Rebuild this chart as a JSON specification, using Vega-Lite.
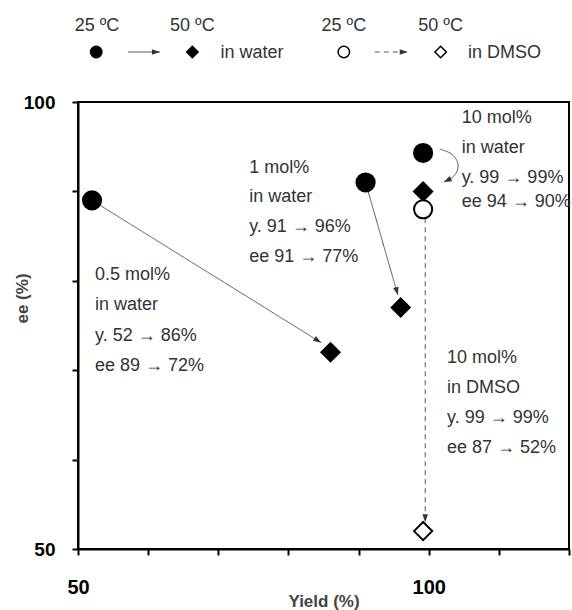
{
  "$schema": "https://vega.github.io/schema/vega-lite/v6.json",
  "autosize": {"type": "none"},
  "padding": {"left": 78, "top": 102, "right": 3, "bottom": 61},
  "width": 491,
  "height": 447,
  "config": {
    "font": "Liberation Sans",
    "view": {"stroke": "black", "strokeWidth": 2}
  },
  "datasets": {
    "pts": [
      {"x": 52, "y": 89, "temp": "25 ºC", "solvent": "water"},
      {"x": 86, "y": 72, "temp": "50 ºC", "solvent": "water"},
      {"x": 91, "y": 91, "temp": "25 ºC", "solvent": "water"},
      {"x": 96, "y": 77, "temp": "50 ºC", "solvent": "water"},
      {"x": 99.2, "y": 94.3, "temp": "25 ºC", "solvent": "water"},
      {"x": 99.2, "y": 90, "temp": "50 ºC", "solvent": "water"},
      {"x": 99.2, "y": 88, "temp": "25 ºC", "solvent": "DMSO"},
      {"x": 99.2, "y": 52, "temp": "50 ºC", "solvent": "DMSO"}
    ],
    "keys": [
      {"x": 52.6, "y": 105.59, "temp": "25 ºC", "solvent": "water"},
      {"x": 66.3, "y": 105.59, "temp": "50 ºC", "solvent": "water"},
      {"x": 87.9, "y": 105.59, "temp": "25 ºC", "solvent": "DMSO"},
      {"x": 101.7, "y": 105.59, "temp": "50 ºC", "solvent": "DMSO"}
    ],
    "paths": [
      {"id": "a", "o": 1, "x": 52, "y": 89, "solvent": "water"},
      {"id": "a", "o": 2, "x": 84.67, "y": 73.08, "solvent": "water"},
      {"id": "b", "o": 1, "x": 91, "y": 91, "solvent": "water"},
      {"id": "b", "o": 2, "x": 95.6, "y": 78.4, "solvent": "water"},
      {"id": "c", "o": 1, "x": 101.57, "y": 94.74, "solvent": "water"},
      {"id": "c", "o": 2, "x": 103.28, "y": 94.18, "solvent": "water"},
      {"id": "c", "o": 3, "x": 104.13, "y": 93.18, "solvent": "water"},
      {"id": "c", "o": 4, "x": 103.99, "y": 92.17, "solvent": "water"},
      {"id": "c", "o": 5, "x": 103.13, "y": 91.39, "solvent": "water"},
      {"id": "c", "o": 6, "x": 102.14, "y": 91.05, "solvent": "water"},
      {"id": "d", "o": 1, "x": 99.5, "y": 87, "solvent": "DMSO"},
      {"id": "d", "o": 2, "x": 99.5, "y": 53.0, "solvent": "DMSO"},
      {"id": "k1", "o": 1, "x": 57.12, "y": 105.59, "solvent": "water"},
      {"id": "k1", "o": 2, "x": 61.68, "y": 105.59, "solvent": "water"},
      {"id": "k2", "o": 1, "x": 92.31, "y": 105.59, "solvent": "DMSO"},
      {"id": "k2", "o": 2, "x": 97.01, "y": 105.59, "solvent": "DMSO"}
    ],
    "heads": [
      {"x": 84.67, "y": 73.08, "heading": 32.5},
      {"x": 95.6, "y": 78.4, "heading": 75.3},
      {"x": 102.14, "y": 91.05, "heading": 155},
      {"x": 99.5, "y": 53.0, "heading": 90},
      {"x": 61.68, "y": 105.59, "heading": 0},
      {"x": 97.01, "y": 105.59, "heading": 0}
    ],
    "notes": [
      {"x": 52.42, "y": 80.09, "text": "0.5 mol%"},
      {"x": 52.42, "y": 76.73, "text": "in water"},
      {"x": 52.42, "y": 73.27, "text": "y. 52 → 86%"},
      {"x": 52.42, "y": 69.91, "text": "ee 89 → 72%"},
      {"x": 74.4, "y": 92.09, "text": "1 mol%"},
      {"x": 74.4, "y": 88.85, "text": "in water"},
      {"x": 74.4, "y": 85.49, "text": "y. 91 → 96%"},
      {"x": 74.4, "y": 82.14, "text": "ee 91 → 77%"},
      {"x": 104.7, "y": 97.65, "text": "10 mol%"},
      {"x": 104.7, "y": 94.3, "text": "in water"},
      {"x": 104.7, "y": 90.94, "text": "y. 99 → 99%"},
      {"x": 104.7, "y": 88.26, "text": "ee 94 → 90%"},
      {"x": 102.61, "y": 70.81, "text": "10 mol%"},
      {"x": 102.61, "y": 67.45, "text": "in DMSO"},
      {"x": 102.61, "y": 64.09, "text": "y. 99 → 99%"},
      {"x": 102.61, "y": 60.74, "text": "ee 87 → 52%"},
      {"x": 70.3, "y": 104.92, "text": "in water"},
      {"x": 105.6, "y": 104.92, "text": "in DMSO"}
    ],
    "temps": [
      {"x": 52.7, "y": 107.94, "text": "25 ºC"},
      {"x": 66.3, "y": 107.94, "text": "50 ºC"},
      {"x": 87.9, "y": 107.94, "text": "25 ºC"},
      {"x": 101.7, "y": 107.94, "text": "50 ºC"}
    ]
  },
  "encoding": {
    "x": {
      "field": "x", "type": "quantitative",
      "scale": {"domain": [50, 120], "nice": false, "zero": false},
      "axis": {
        "values": [50, 60, 70, 80, 90, 100, 110, 120],
        "labelExpr": "datum.value == 50 || datum.value == 100 ? datum.label : ''",
        "labelFlush": false, "labelOverlap": false, "grid": false,
        "domainColor": "black", "domainWidth": 2,
        "tickColor": "black", "tickWidth": 2, "tickSize": 6,
        "labelFont": "Liberation Sans", "labelFontSize": 20, "labelFontWeight": "bold", "labelColor": "black",
        "labelPadding": 22,
        "title": "Yield (%)", "titleFont": "Liberation Sans", "titleFontSize": 17, "titleFontWeight": "bold",
        "titleColor": "#444", "titleBaseline": "alphabetic", "titleY": 57
      }
    },
    "y": {
      "field": "y", "type": "quantitative",
      "scale": {"domain": [50, 100], "nice": false, "zero": false},
      "axis": {
        "values": [50, 60, 70, 80, 90, 100],
        "labelExpr": "datum.value == 50 || datum.value == 100 ? datum.label : ''",
        "labelFlush": false, "labelOverlap": false, "grid": false,
        "domainColor": "black", "domainWidth": 2,
        "tickColor": "black", "tickWidth": 2, "tickSize": 6,
        "labelFont": "Liberation Sans", "labelFontSize": 19, "labelFontWeight": "bold", "labelColor": "black",
        "labelPadding": 17,
        "title": "ee (%)", "titleFont": "Liberation Sans", "titleFontSize": 17, "titleFontWeight": "bold",
        "titleColor": "#444", "titleBaseline": "middle", "titleX": -56, "titleY": 196
      }
    }
  },
  "layer": [
    {
      "data": {"name": "paths"},
      "mark": {"type": "line", "interpolate": "cardinal", "color": "#555", "strokeWidth": 1},
      "encoding": {
        "detail": {"field": "id"},
        "order": {"field": "o", "type": "quantitative"},
        "strokeDash": {
          "field": "solvent", "type": "nominal",
          "scale": {"domain": ["water", "DMSO"], "range": [[1, 0], [5, 4]]},
          "legend": null
        }
      }
    },
    {
      "data": {"name": "heads"},
      "mark": {"type": "point", "shape": "M0,0L-2,-0.7L-2,0.7Z", "filled": true, "color": "#333", "size": 64, "opacity": 1},
      "encoding": {
        "angle": {"field": "heading", "type": "quantitative", "scale": null}
      }
    },
    {
      "data": {"name": "pts"},
      "mark": {"type": "point", "filled": true, "size": 330, "stroke": "black", "strokeWidth": 2, "opacity": 1},
      "encoding": {
        "shape": {"field": "temp", "type": "nominal", "scale": {"domain": ["25 ºC", "50 ºC"], "range": ["circle", "diamond"]}, "legend": null},
        "fill": {"field": "solvent", "type": "nominal", "scale": {"domain": ["water", "DMSO"], "range": ["black", "white"]}, "legend": null}
      }
    },
    {
      "data": {"name": "keys"},
      "mark": {"type": "point", "filled": true, "size": 130, "stroke": "black", "strokeWidth": 1.5, "opacity": 1},
      "encoding": {
        "shape": {"field": "temp", "type": "nominal", "scale": {"domain": ["25 ºC", "50 ºC"], "range": ["circle", "diamond"]}, "legend": null},
        "fill": {"field": "solvent", "type": "nominal", "scale": {"domain": ["water", "DMSO"], "range": ["black", "white"]}, "legend": null}
      }
    },
    {
      "data": {"name": "notes"},
      "mark": {"type": "text", "align": "left", "baseline": "alphabetic", "font": "Liberation Sans", "fontSize": 18, "color": "#333"},
      "encoding": {"text": {"field": "text"}}
    },
    {
      "data": {"name": "temps"},
      "mark": {"type": "text", "align": "center", "baseline": "alphabetic", "font": "Liberation Sans", "fontSize": 18, "color": "#333"},
      "encoding": {"text": {"field": "text"}}
    }
  ]
}
